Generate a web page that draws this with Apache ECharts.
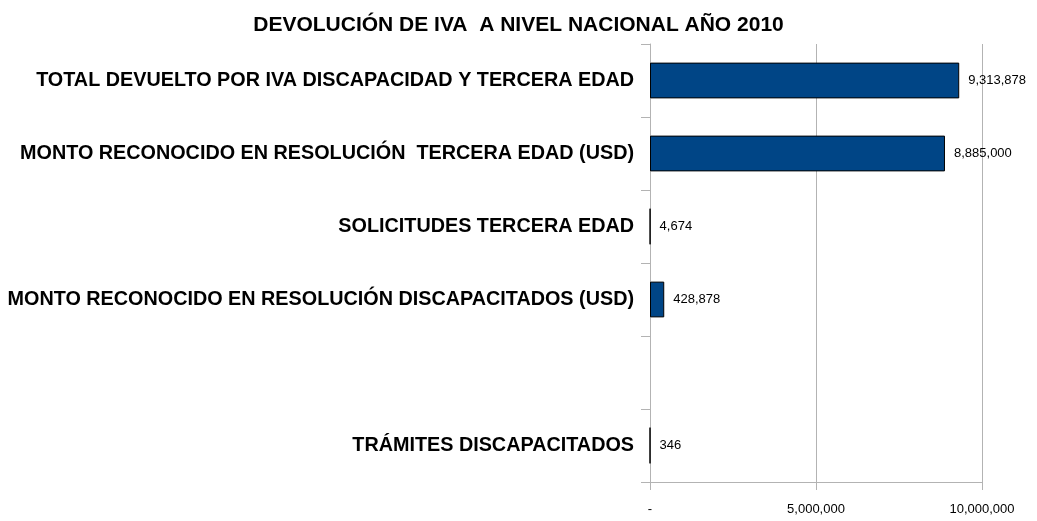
<!DOCTYPE html>
<html>
<head>
<meta charset="utf-8">
<script src="https://cdn.jsdelivr.net/npm/echarts@6/dist/echarts.min.js"></script>
<style>
  html, body { margin: 0; padding: 0; background: #fff; }
  #chart { width: 1037px; height: 521px; }
</style>
</head>
<body>
<div id="chart"></div>
<script>
var categories = [
  'TOTAL DEVUELTO POR IVA DISCAPACIDAD Y TERCERA EDAD',
  'MONTO RECONOCIDO EN RESOLUCIÓN  TERCERA EDAD (USD)',
  'SOLICITUDES TERCERA EDAD',
  'MONTO RECONOCIDO EN RESOLUCIÓN DISCAPACITADOS (USD)',
  '',
  'TRÁMITES DISCAPACITADOS'
];
var values = [9313878, 8885000, 4674, 428878, null, 346];

function fmt(v) {
  if (v === 0) return '-';
  return v.toLocaleString('en-US');
}

var chart = echarts.init(document.getElementById('chart'));

var option = {
  animation: false,
  textStyle: { fontFamily: 'Liberation Sans, Arial, sans-serif' },
  title: {
    text: 'DEVOLUCIÓN DE IVA  A NIVEL NACIONAL AÑO 2010',
    left: 'center',
    top: 10,
    textStyle: { color: '#000', fontSize: 21, fontWeight: 'bold' }
  },
  grid: { left: 650, right: 55, top: 44, bottom: 39 },
  xAxis: {
    type: 'value',
    min: 0,
    max: 10000000,
    interval: 5000000,
    axisLine: { show: true, lineStyle: { color: '#b3b3b3' } },
    axisTick: { show: true, length: 8, lineStyle: { color: '#b3b3b3' } },
    splitLine: { show: true, lineStyle: { color: '#b3b3b3' } },
    axisLabel: {
      color: '#000', fontSize: 13, margin: 21,
      formatter: function (v) { return fmt(v); }
    }
  },
  yAxis: {
    type: 'category',
    inverse: true,
    data: categories,
    axisLine: { show: true, lineStyle: { color: '#b3b3b3' } },
    axisTick: { show: true, length: 9, lineStyle: { color: '#b3b3b3' } },
    axisLabel: { color: '#000', fontSize: 19.8, fontWeight: 'bold', margin: 16 }
  },
  series: [{
    type: 'bar',
    data: values,
    barWidth: '49%',
    itemStyle: { color: '#004586', borderColor: '#000', borderWidth: 1 },
    label: {
      show: true,
      position: 'right',
      distance: 9,
      color: '#000',
      fontSize: 13,
      formatter: function (p) { return fmt(p.value); }
    }
  }]
};

chart.setOption(option);
</script>
</body>
</html>
